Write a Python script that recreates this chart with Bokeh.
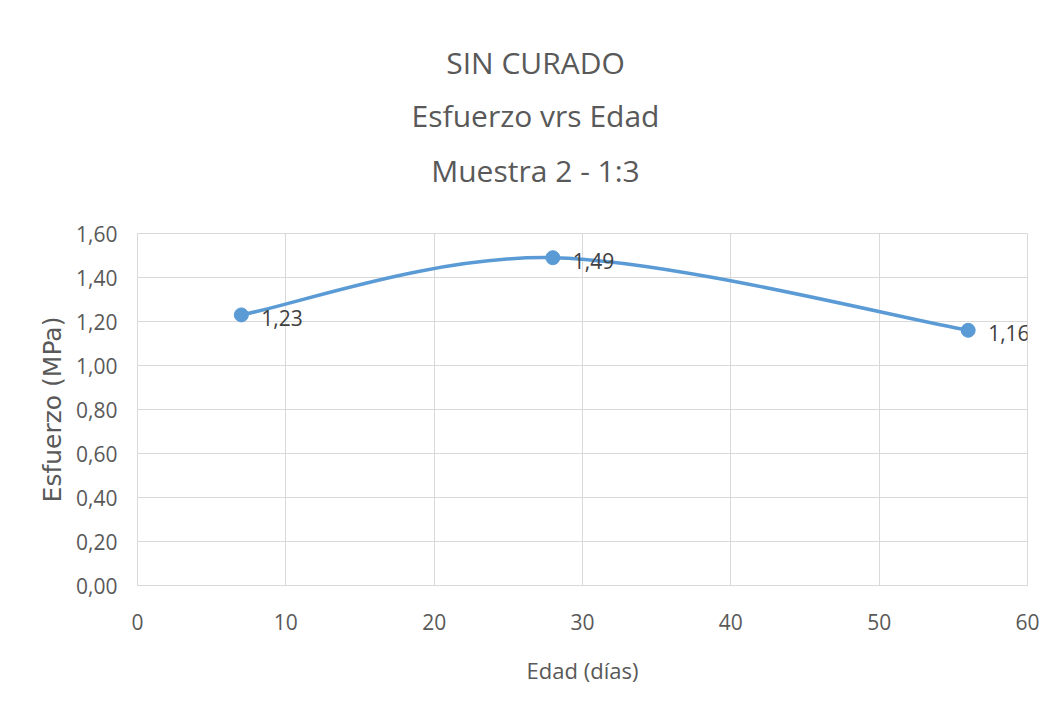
import numpy as np
from bokeh.plotting import figure
from bokeh.layouts import column
from bokeh.models import Range1d, FixedTicker, ColumnDataSource
from bokeh.core.properties import value
from bokeh.embed import file_html
from bokeh.resources import INLINE

# ---- data ----
edad = [7, 28, 56]
esfuerzo = [1.23, 1.49, 1.16]
data_labels = ["1,23", "1,49", "1,16"]

x_ticks = [0, 10, 20, 30, 40, 50, 60]
y_ticks = [0.0, 0.2, 0.4, 0.6, 0.8, 1.0, 1.2, 1.4, 1.6]
y_tick_labels = ["0,00", "0,20", "0,40", "0,60", "0,80", "1,00", "1,20", "1,40", "1,60"]

title_lines = ["SIN CURADO", "Esfuerzo vrs Edad", "Muestra 2 - 1:3"]
x_label = "Edad (días)"
y_label = "Esfuerzo (MPa)"

FONT = "Open Sans"
BLUE = "#5B9BD5"
GRID = "#D9D9D9"
TXT = "#595959"
W, H = 1053, 719
TITLE_H = 215
LEFT, RIGHT, BOTTOM = 137, 26, 134
TOP = 233 - TITLE_H

# ---- title strip (its own figure; the column aligns its frame with the chart frame,
#      so the x range is set to page pixels of that frame, y measured downward) ----
t = figure(width=W, height=TITLE_H, output_backend="svg", toolbar_location=None,
           x_range=Range1d(LEFT, W - RIGHT), y_range=Range1d(TITLE_H, 0),
           x_axis_location=None, y_axis_location=None, min_border=0)
t.outline_line_color = None
t.grid.visible = False
t.background_fill_color = "white"
t.border_fill_color = "white"
tsrc = ColumnDataSource(dict(x=[535, 535, 535], y=[62, 115, 170], text=title_lines))
t.text("x", "y", text="text", source=tsrc, text_font=value(FONT), text_font_size="30px",
       text_color=TXT, text_align="center", text_baseline="middle")

# ---- chart ----
p = figure(width=W, height=H - TITLE_H, output_backend="svg", toolbar_location=None,
           x_range=Range1d(0, 60), y_range=Range1d(0, 1.6),
           min_border_left=LEFT, min_border_right=RIGHT, min_border_top=TOP, min_border_bottom=BOTTOM)
p.outline_line_color = GRID
p.background_fill_color = "white"
p.border_fill_color = "white"

p.xgrid.ticker = FixedTicker(ticks=x_ticks)
p.ygrid.ticker = FixedTicker(ticks=y_ticks)
p.xgrid.grid_line_color = GRID
p.ygrid.grid_line_color = GRID

p.xaxis.ticker = FixedTicker(ticks=x_ticks)
p.yaxis.ticker = FixedTicker(ticks=y_ticks)
p.yaxis.major_label_overrides = {tk: lb for tk, lb in zip(y_ticks, y_tick_labels)}
for ax in (p.xaxis, p.yaxis):
    ax.axis_line_color = GRID
    ax.major_tick_line_color = None
    ax.minor_tick_line_color = None
    ax.major_tick_out = 0
    ax.major_tick_in = 0
    ax.minor_tick_out = 0
    ax.major_label_text_font = FONT
    ax.major_label_text_font_size = "21px"
    ax.major_label_text_color = TXT
    ax.axis_label_text_font_style = "normal"
    ax.axis_label_text_color = TXT
p.xaxis.major_label_standoff = 28
p.yaxis.major_label_standoff = 20
p.xaxis.axis_label = x_label
p.yaxis.axis_label = y_label
p.xaxis.axis_label_text_font = FONT
p.yaxis.axis_label_text_font = "DejaVu Sans"
p.xaxis.axis_label_text_font_size = "22px"
p.yaxis.axis_label_text_font_size = "25px"
p.xaxis.axis_label_standoff = 22
p.yaxis.axis_label_standoff = 6

# smoothed line (Catmull-Rom style bezier through the data points)
xs = np.array(edad, dtype=float)
ys = np.array(esfuerzo, dtype=float)
n = len(xs)
xp = np.concatenate([[xs[0]], xs, [xs[-1]]])
yp = np.concatenate([[ys[0]], ys, [ys[-1]]])
seg = dict(x0=[], y0=[], x1=[], y1=[], cx0=[], cy0=[], cx1=[], cy1=[])
for i in range(n - 1):
    j = i + 1
    seg["x0"].append(xs[i]); seg["y0"].append(ys[i])
    seg["x1"].append(xs[i + 1]); seg["y1"].append(ys[i + 1])
    seg["cx0"].append(xs[i] + (xp[j + 1] - xp[j - 1]) / 6)
    seg["cy0"].append(ys[i] + (yp[j + 1] - yp[j - 1]) / 6)
    seg["cx1"].append(xs[i + 1] - (xp[j + 2] - xp[j]) / 6)
    seg["cy1"].append(ys[i + 1] - (yp[j + 2] - yp[j]) / 6)
p.bezier(x0="x0", y0="y0", x1="x1", y1="y1", cx0="cx0", cy0="cy0", cx1="cx1", cy1="cy1",
         source=ColumnDataSource(seg), line_color=BLUE, line_width=3.5)

src = ColumnDataSource(dict(x=edad, y=esfuerzo, lab=data_labels))
p.scatter("x", "y", source=src, size=14, fill_color=BLUE, line_color=BLUE)
p.text("x", "y", text="lab", source=src, x_offset=20, y_offset=3,
       text_font=value(FONT), text_font_size="21px", text_color="#404040",
       text_align="left", text_baseline="middle")

layout = column(t, p, spacing=0)
open("out.html", "w").write(file_html(layout, INLINE))
